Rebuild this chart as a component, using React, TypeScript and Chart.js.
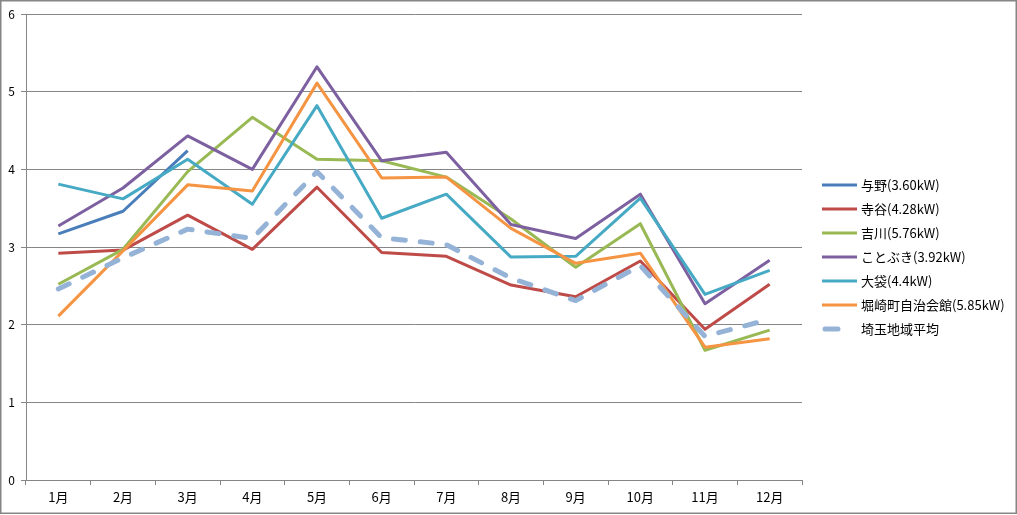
import React, { useEffect, useRef } from "react";
import { Chart, registerables } from "chart.js";

Chart.register(...registerables);

const months = ["1月", "2月", "3月", "4月", "5月", "6月", "7月", "8月", "9月", "10月", "11月", "12月"];
const seriesNames = [
  "与野(3.60kW)",
  "寺谷(4.28kW)",
  "吉川(5.76kW)",
  "ことぶき(3.92kW)",
  "大袋(4.4kW)",
  "堀崎町自治会館(5.85kW)",
  "埼玉地域平均",
];
const yono = [3.17, 3.46, 4.24, null, null, null, null, null, null, null, null, null];
const teraya = [2.92, 2.96, 3.41, 2.97, 3.77, 2.93, 2.88, 2.51, 2.36, 2.82, 1.94, 2.52];
const yoshikawa = [2.52, 2.97, 3.97, 4.67, 4.13, 4.11, 3.9, 3.36, 2.74, 3.3, 1.67, 1.93];
const kotobuki = [3.27, 3.76, 4.43, 4.0, 5.32, 4.11, 4.22, 3.29, 3.11, 3.68, 2.27, 2.83];
const obukuro = [3.81, 3.62, 4.13, 3.55, 4.82, 3.37, 3.68, 2.87, 2.88, 3.63, 2.39, 2.7];
const horisaki = [2.11, 2.95, 3.8, 3.72, 5.11, 3.89, 3.9, 3.24, 2.79, 2.92, 1.71, 1.82];
const saitamaAvg = [2.46, 2.86, 3.23, 3.11, 3.97, 3.12, 3.03, 2.6, 2.31, 2.76, 1.85, 2.07];
const yTicks = [0, 1, 2, 3, 4, 5, 6];

const colors = ["#4A7EBB", "#BE4B48", "#98B954", "#7D60A0", "#46AAC5", "#F59443", "#95B3D7"];
const FONT = "'Noto Sans CJK JP', 'Noto Sans', sans-serif";

export default function App() {
  const ref = useRef<HTMLCanvasElement | null>(null);
  useEffect(() => {
    if (!ref.current) return;
    const values = [yono, teraya, yoshikawa, kotobuki, obukuro, horisaki, saitamaAvg];
    const datasets = values.map((d, i) => {
      const isAvg = i === 6;
      return {
        label: seriesNames[i],
        data: d,
        borderColor: colors[i],
        backgroundColor: colors[i],
        borderWidth: isAvg ? 5 : 3,
        borderDash: isAvg ? [12, 15] : [],
        borderCapStyle: isAvg ? "round" : "butt",
        borderJoinStyle: "round",
        pointRadius: 0,
        pointHoverRadius: 0,
        tension: 0,
        spanGaps: false,
        order: 6 - i,
        fill: false,
      };
    });

    const borderPlugin = {
      id: "outerBorderAndLegend",
      afterDraw(chart: any) {
        const ctx = chart.ctx;
        ctx.save();
        ctx.strokeStyle = "#868686";
        ctx.lineWidth = 1.5;
        ctx.strokeRect(0.75, 0.75, 1015.5, 512.5);
        // legend
        ctx.font = `13px ${FONT}`;
        ctx.textBaseline = "middle";
        ctx.textAlign = "left";
        seriesNames.forEach((name, i) => {
          const y = 185 + i * 24;
          ctx.beginPath();
          ctx.strokeStyle = colors[i];
          if (i === 6) {
            ctx.lineWidth = 5;
            ctx.lineCap = "round";
            ctx.moveTo(825, y);
            ctx.lineTo(838, y);
          } else {
            ctx.lineWidth = 3;
            ctx.lineCap = "butt";
            ctx.moveTo(822, y);
            ctx.lineTo(857, y);
          }
          ctx.stroke();
          ctx.fillStyle = "#000";
          ctx.fillText(name, 861, y);
        });
        ctx.restore();
      },
    };

    const chart = new Chart(ref.current, {
      type: "line",
      data: { labels: months, datasets: datasets as any },
      plugins: [borderPlugin],
      options: {
        animation: false,
        responsive: false,
        maintainAspectRatio: false,
        layout: { padding: { top: 14, right: 215, bottom: 0, left: 0 } },
        plugins: {
          legend: { display: false },
          tooltip: { enabled: false },
        },
        scales: {
          x: {
            type: "category",
            offset: true,
            grid: {
              display: true,
              drawOnChartArea: false,
              drawTicks: true,
              tickLength: 5,
              color: "#868686",
              offset: true,
            },
            border: { display: true, color: "#868686", width: 1 },
            ticks: {
              color: "#000",
              font: { family: FONT, size: 13 },
              padding: 4,
              maxRotation: 0,
              autoSkip: false,
            },
            afterFit(scale: any) {
              scale.height = 35;
            },
          },
          y: {
            type: "linear",
            min: 0,
            max: 6,
            afterBuildTicks(scale: any) {
              scale.ticks = yTicks.map((v) => ({ value: v }));
            },
            grid: {
              color: "#868686",
              lineWidth: 1,
              drawTicks: true,
              tickLength: 5,
            },
            border: { display: true, color: "#868686", width: 1 },
            ticks: {
              color: "#000",
              font: { family: FONT, size: 12 },
              padding: 6,
              stepSize: 1,
            },
            afterFit(scale: any) {
              scale.width = 26;
            },
          },
        },
      },
    });
    return () => chart.destroy();
  }, []);
  return (
    <div style={{ position: "absolute", left: 0, top: 0, width: 1017, height: 515, background: "#fff" }}>
      <canvas ref={ref} width={1017} height={515} style={{ width: 1017, height: 515, display: "block" }} />
    </div>
  );
}
